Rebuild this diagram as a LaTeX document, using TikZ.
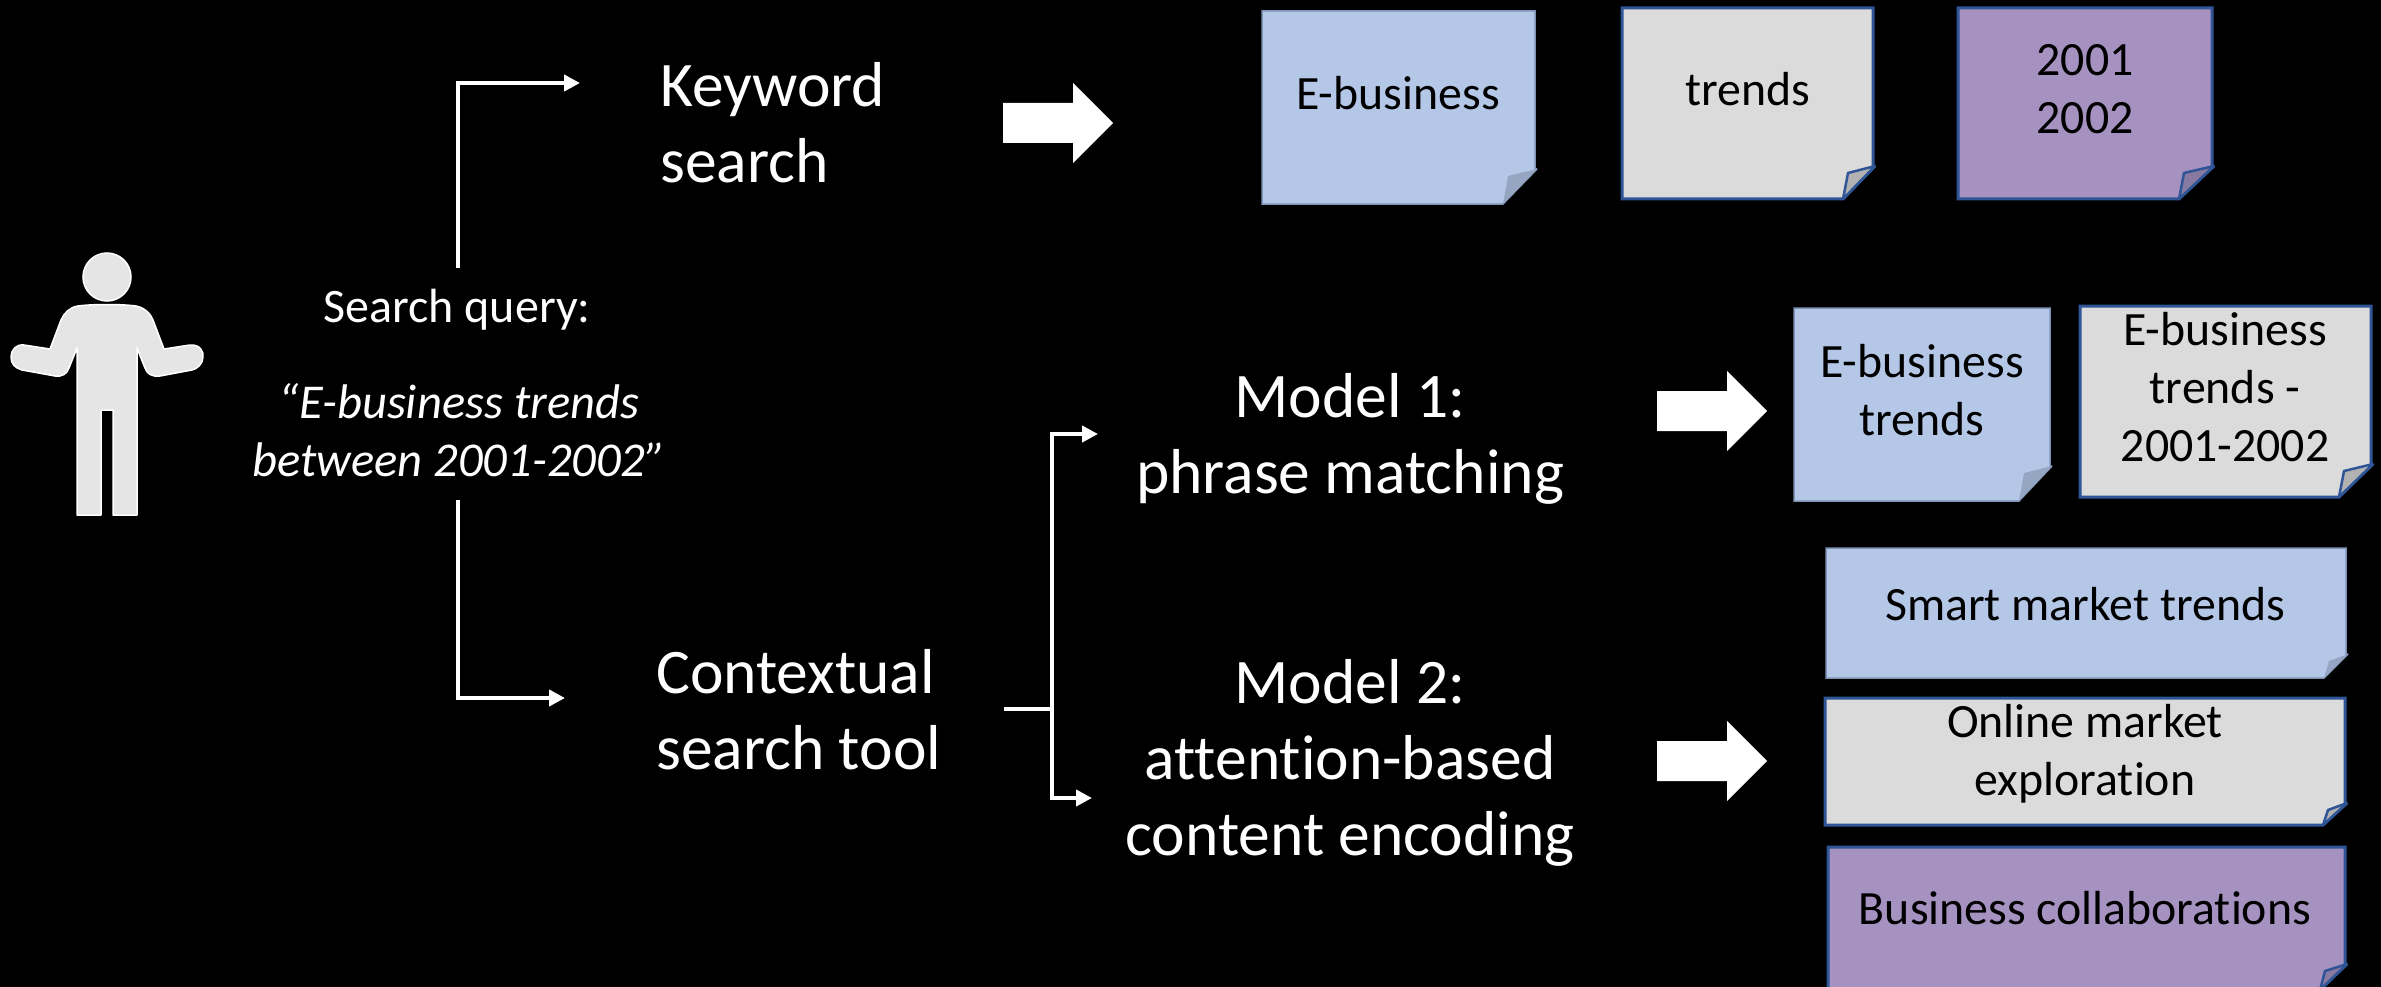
\documentclass[tikz,border=0pt]{standalone}
\usepackage{fontspec}
\setmainfont[Ligatures=NoCommon]{Carlito}
\usetikzlibrary{calc,arrows.meta}
\definecolor{nblue}{HTML}{B4C7E7}
\definecolor{ngray}{HTML}{DBDBDB}
\definecolor{npurple}{HTML}{A592C0}
\definecolor{fblue}{HTML}{95A5C2}
\definecolor{fgray}{HTML}{B2B2B2}
\definecolor{fpurple}{HTML}{8779A0}
\definecolor{nedge}{HTML}{2F5597}
\definecolor{fedge}{HTML}{7F93B5}
\tikzset{
  bigtext/.style={text=white,font=\fontsize{63.5}{76}\selectfont,inner sep=0pt},
  midtext/.style={text=white,font=\fontsize{48}{58}\selectfont,inner sep=0pt},
  notetext/.style={text=black,font=\fontsize{47.8}{58}\selectfont,inner sep=0pt,align=center},
  conn/.style={draw=white,line width=4pt,-{Triangle[length=16pt,width=16pt]}},
  connplain/.style={draw=white,line width=4pt},
  blockarrow/.style={fill=white,draw=none},
  bluenote/.style={fill=nblue,draw=fedge,line width=1.5pt},
  graynote/.style={fill=ngray,draw=nedge,line width=3pt},
  purplenote/.style={fill=npurple,draw=nedge,line width=3pt},
  bluefold/.style={fill=fblue,draw=none},
  grayfold/.style={fill=fgray,draw=nedge,line width=2.5pt},
  purplefold/.style={fill=fpurple,draw=nedge,line width=2.5pt},
}
% #1 left #2 top #3 right #4 bottom #5 corner x #6 tip y #7 kind
\newcommand{\stickynote}[7]{%
  \path[#7note,line join=miter,miter limit=1.5] (#1,#2)--(#3,#2)--(#3,#6)--({#3+2},#6)--(#5,#4)--(#1,#4)--cycle;
  \path[#7fold,line join=miter,miter limit=1.5] ({#3+2},#6)--({#5+5},{#6+7})--(#5,#4)--cycle;
}
\newcommand{\blockarrowat}[2]{% #1 left x, #2 centre y
  \path[blockarrow] (#1,{#2-20})--({#1+70},{#2-20})--({#1+70},{#2-40})--({#1+110},#2)--({#1+70},{#2+40})--({#1+70},{#2+20})--(#1,{#2+20})--cycle;
}
\begin{document}
\begin{tikzpicture}[x=1pt,y=-1pt]
\clip (0,0) rectangle (2381,987);
\fill[black] (0,0) rectangle (2381,987);

% person
\fill[fill=black!10,draw=white,line width=1.5pt] (107,277) circle (24);
\path[fill=black!10,draw=white,line width=1.5pt,line join=round]
  (78,306) .. controls (92,304) and (122,304) .. (136,306)
  .. controls (146,308) and (151,315) .. (153,320)
  -- (164,349) -- (190,345)
  .. controls (200,344) and (204,352) .. (203,357)
  .. controls (203,364) and (197,369) .. (192,370)
  -- (160,376)
  .. controls (152,377) and (147,374) .. (145,368)
  -- (137,348) -- (137,515) -- (113,515) -- (113,410) -- (101,410) -- (101,515) -- (77,515) -- (77,348)
  -- (69,368)
  .. controls (67,374) and (62,377) .. (55,376)
  -- (22,370)
  .. controls (15,368) and (11,364) .. (11,357)
  .. controls (11,350) and (16,344) .. (24,345)
  -- (50,349) -- (61,320)
  .. controls (64,313) and (70,307) .. (78,306) -- cycle;
\node[midtext] (querytitle) at (457,310) {Search query:};
\node[midtext,font=\fontsize{48.6}{58}\selectfont\itshape,align=center] (querytext) at (459,430) {“E-business trends\\between 2001-2002”};

\node[bigtext,anchor=west,align=left] (keyword) at (660,123) {Keyword\\search};
\node[bigtext,anchor=west,align=left] (contextual) at (656,710) {Contextual\\search tool};
\node[bigtext,align=center] (model1) at (1350,439) {Model 1:\\phrase matching};
\node[bigtext,align=center] (model2) at (1350,763) {Model 2:\\attention-based\\content encoding};

\coordinate (qtop) at (458,268);
\coordinate (kwin) at (580,83);
\coordinate (qbot) at (458,500);
\coordinate (ctin) at (565,698);
\coordinate (ctout) at (1004,709);
\coordinate (spine) at (1052,709);
\coordinate (m1in) at (1098,434);
\coordinate (m2in) at (1092,798);
\draw[conn] (qtop) |- (kwin);
\draw[conn] (qbot) |- (ctin);
\draw[connplain] (ctout) -- (spine);
\draw[conn] (spine) |- (m1in);
\draw[conn] (spine) |- (m2in);

\blockarrowat{1003}{123}
\blockarrowat{1657}{411}
\blockarrowat{1657}{761}

\stickynote{1262}{11}{1535}{204}{1503}{169}{blue}
\stickynote{1622}{8}{1873}{199}{1843}{166}{gray}
\stickynote{1958}{8}{2212}{199}{2179}{166}{purple}
\stickynote{1794}{308}{2050}{501}{2019}{466}{blue}
\stickynote{2080}{306}{2371}{497}{2339}{464}{gray}
\stickynote{1826}{548}{2346}{678}{2324}{654}{blue}
\stickynote{1825}{698}{2345}{825}{2323}{803}{gray}
\stickynote{1828}{847}{2345}{990}{2320}{964}{purple}

\node[notetext] (n1) at (1398,93) {E-business};
\node[notetext] (n2) at (1748,89) {trends};
\node[notetext] (n3) at (2085,89) {2001\\2002};
\node[notetext] (n4) at (1922,390) {E-business\\trends};
\node[notetext] (n5) at (2225,387) {E-business\\trends -\\2001-2002};
\node[notetext] (n6) at (2085,604) {Smart market trends};
\node[notetext] (n7) at (2085,754) {Online market\\exploration};
\node[notetext] (n8) at (2085,908) {Business collaborations};
\end{tikzpicture}
\end{document}
